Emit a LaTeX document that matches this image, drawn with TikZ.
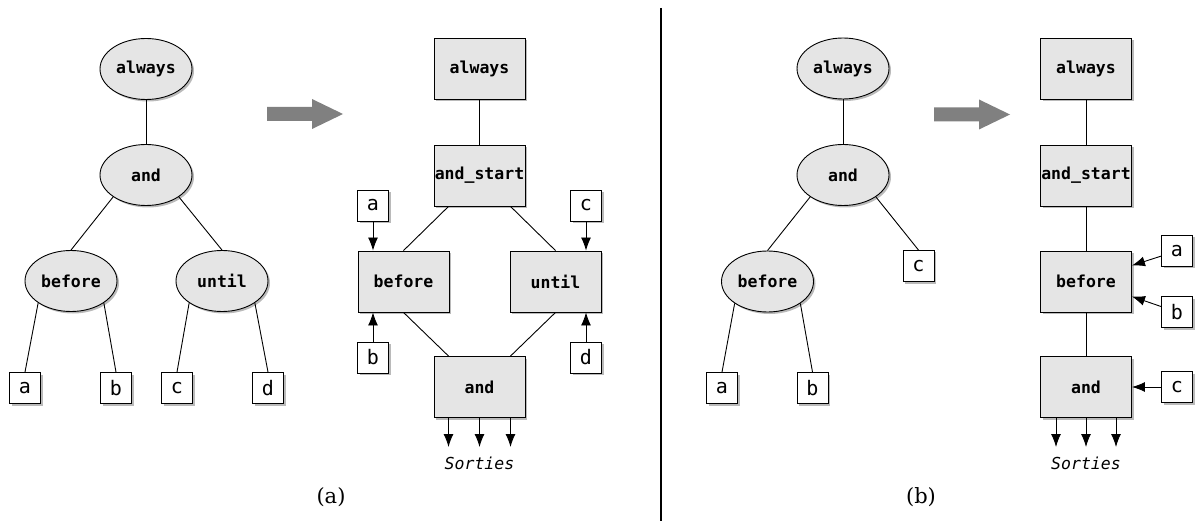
\documentclass[tikz,border=0pt]{standalone}
\usepackage{fontspec}
\newfontfamily\codefont{DejaVu Sans Mono}
\newfontfamily\capfont{DejaVu Serif}
\usetikzlibrary{shapes.geometric,shadows,arrows.meta}
\begin{document}
\begin{tikzpicture}[x=1pt, y=-1pt, line width=0.9pt, >={Latex[length=13pt,width=10pt]},
    treeop/.style={draw, ellipse, fill=black!10, minimum width=92pt, minimum height=61pt, inner sep=0pt,
      font=\codefont\bfseries\fontsize{16.5}{20}\selectfont,
      drop shadow={shadow xshift=2pt, shadow yshift=-2pt, fill=black!45, opacity=0.6}},
    boxop/.style={treeop, rectangle, minimum width=91pt},
    leaf/.style={draw, rectangle, fill=white, minimum size=31pt, inner sep=0pt,
      font=\codefont\fontsize{20}{24}\selectfont,
      drop shadow={shadow xshift=2pt, shadow yshift=-2pt, fill=black!45, opacity=0.6}},
    outs/.style={anchor=north, inner xsep=0pt, inner ysep=10pt, font=\codefont\itshape\fontsize{16.5}{20}\selectfont},
    caption/.style={font=\capfont\fontsize{21}{25}\selectfont},
    bigarrow/.style={fill=black!50, draw=none}]
  \useasboundingbox (0,0) rectangle (1196,521);

  % (a) syntax tree
  \node[treeop] (alwaysA) at (146,69) {always};
  \node[treeop] (andA) at (146,175) {and};
  \node[treeop] (beforeA) at (71,281) {before};
  \node[treeop] (untilA) at (222,281) {until};
  \node[leaf] (aA) at (25,388) {a};
  \node[leaf] (bA) at (116,388) {b};
  \node[leaf] (cA) at (177,388) {c};
  \node[leaf] (dA) at (268,388) {d};
  \draw (alwaysA) -- (andA);
  \draw (andA.south west) -- (beforeA.north);
  \draw (andA.south east) -- (untilA.north);
  \draw (beforeA.south west) -- (aA.north);
  \draw (beforeA.south east) -- (bA.north);
  \draw (untilA.south west) -- (cA.north);
  \draw (untilA.south east) -- (dA.north);

  \fill[bigarrow] (267,107) -- (312,107) -- (312,99) -- (343,114) -- (312,129) -- (312,121) -- (267,121) -- cycle;

  % (a) network
  \node[boxop] (alwaysN) at (479.5,68.5) {always};
  \node[boxop] (startN) at (479.5,175.5) {and\_start};
  \node[boxop] (beforeN) at (403.5,281.5) {before};
  \node[boxop] (untilN) at (555.5,281.5) {until};
  \node[boxop] (andN) at (479.5,387) {and};
  \node[leaf] (aN) at (373,205.5) {a};
  \node[leaf] (bN) at (373,357.5) {b};
  \node[leaf] (cN) at (586,205.5) {c};
  \node[leaf] (dN) at (586,357.5) {d};
  \node[outs] (outN) at (479.5,447) {Sorties};
  \draw (alwaysN) -- (startN);
  \draw ([xshift=-31pt]startN.south) -- (beforeN.north);
  \draw ([xshift=31pt]startN.south) -- (untilN.north);
  \draw (beforeN.south) -- ([xshift=-31pt]andN.north);
  \draw (untilN.south) -- ([xshift=31pt]andN.north);
  \draw[->] (aN) -- (aN |- beforeN.north);
  \draw[->] (bN) -- (bN |- beforeN.south);
  \draw[->] (cN) -- (cN |- untilN.north);
  \draw[->] (dN) -- (dN |- untilN.south);
  \foreach \dx in {-31,0,31}
    \draw[->] ([xshift=\dx pt]andN.south) -- ([xshift=\dx pt]outN.north);

  \node[caption] (capA) at (331,497) {(a)};

  \draw[line width=1.2pt] (661,8) -- (661,521);

  % (b) syntax tree
  \node[treeop] (alwaysB) at (843,68.5) {always};
  \node[treeop] (andB) at (843,175) {and};
  \node[treeop] (beforeB) at (767.5,281.5) {before};
  \node[leaf] (cB) at (918.5,266) {c};
  \node[leaf] (aB) at (722,388) {a};
  \node[leaf] (bB) at (812.5,388) {b};
  \draw (alwaysB) -- (andB);
  \draw (andB.south west) -- (beforeB.north);
  \draw (andB.south east) -- (cB.north);
  \draw (beforeB.south west) -- (aB.north);
  \draw (beforeB.south east) -- (bB.north);

  \fill[bigarrow] (934,107.5) -- (979,107.5) -- (979,99.5) -- (1010,114.5) -- (979,129.5) -- (979,121.5) -- (934,121.5) -- cycle;

  % (b) network
  \node[boxop] (alwaysM) at (1086,68.5) {always};
  \node[boxop] (startM) at (1086,175.5) {and\_start};
  \node[boxop] (beforeM) at (1086,281.5) {before};
  \node[boxop] (andM) at (1086,387) {and};
  \node[leaf] (aM) at (1177,251) {a};
  \node[leaf] (bM) at (1177,312) {b};
  \node[leaf] (cM) at (1177,387) {c};
  \node[outs] (outM) at (1086,447) {Sorties};
  \draw (alwaysM) -- (startM);
  \draw (startM) -- (beforeM);
  \draw (beforeM) -- (andM);
  \draw[->] (aM) -- ([yshift=16pt]beforeM.east);
  \draw[->] (bM) -- ([yshift=-15pt]beforeM.east);
  \draw[->] (cM) -- (andM);
  \foreach \dx in {-30,0,30}
    \draw[->] ([xshift=\dx pt]andM.south) -- ([xshift=\dx pt]outM.north);

  \node[caption] (capB) at (921,497) {(b)};
\end{tikzpicture}
\end{document}
